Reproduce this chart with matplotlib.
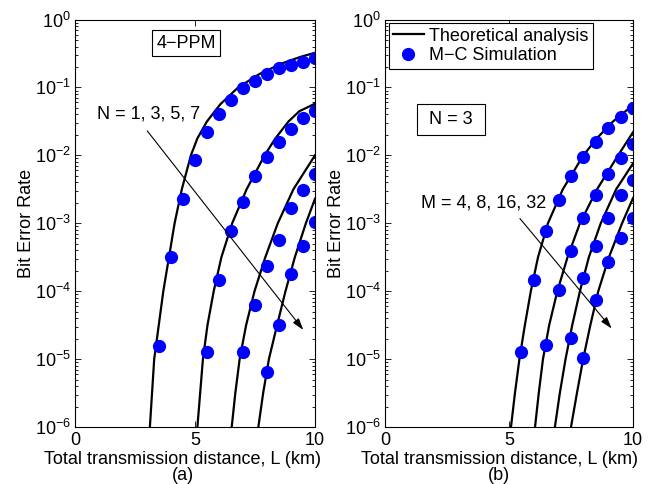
import numpy as np
import matplotlib
matplotlib.use("Agg")
from matplotlib import pyplot as plt
from matplotlib.ticker import FixedLocator, FixedFormatter, NullFormatter

plt.rcParams['font.family'] = ['Liberation Sans', 'DejaVu Sans']
plt.rcParams['mathtext.fontset'] = 'custom'
plt.rcParams['mathtext.rm'] = 'Liberation Sans'
plt.rcParams['mathtext.it'] = 'Liberation Sans:italic'
plt.rcParams['mathtext.default'] = 'regular'

FS = 13

# ---- panel (a): 4-PPM, N = 1, 3, 5, 7  (values are log10 BER) ----
a_theory_L = [
    [3.12, 3.30, 3.68, 4.15, 4.45, 4.83, 5.1, 5.5, 6.05, 6.8, 7.7, 8.6, 9.4, 10.0],
    [5.1, 5.33, 5.52, 5.78, 6.1, 6.55, 7.15, 7.9, 8.35, 8.9, 9.35, 10.0],
    [6.53, 6.68, 6.86, 7.13, 7.48, 7.93, 8.45, 9.1, 10.0],
    [7.64, 7.84, 8.08, 8.42, 8.77, 9.16, 9.62, 10.0],
]
a_theory_logber = [
    [-6.0, -5.0, -4.0, -3.0, -2.5, -2.0, -1.75, -1.5, -1.25, -1.0, -0.8, -0.65, -0.55, -0.49],
    [-6.0, -5.0, -4.5, -4.0, -3.5, -3.0, -2.5, -2.0, -1.75, -1.5, -1.35, -1.24],
    [-6.0, -5.5, -5.0, -4.5, -4.0, -3.5, -3.0, -2.5, -2.0],
    [-6.0, -5.5, -5.0, -4.5, -4.0, -3.5, -3.0, -2.64],
]
a_sim_L = [
    [3.5, 4, 4.5, 5, 5.5, 6, 6.5, 7, 7.5, 8, 8.5, 9, 9.5, 10],
    [5.5, 6, 6.5, 7, 7.5, 8, 8.5, 9, 9.5, 10],
    [7, 7.5, 8, 8.5, 9, 9.5, 10],
    [8, 8.5, 9, 9.5, 10],
]
a_sim_logber = [
    [-4.81, -3.49, -2.64, -2.07, -1.66, -1.39, -1.18, -1.01, -0.90, -0.80, -0.72, -0.67, -0.62, -0.57],
    [-4.90, -3.83, -3.12, -2.68, -2.31, -2.03, -1.80, -1.61, -1.45, -1.34],
    [-4.90, -4.20, -3.63, -3.24, -2.77, -2.51, -2.27],
    [-5.19, -4.50, -3.75, -3.33, -2.98],
]

# ---- panel (b): N = 3, M = 4, 8, 16, 32 ----
b_theory_L = [
    [5.08, 5.24, 5.42, 5.64, 5.88, 6.17, 6.57, 7.17, 8.0, 8.54, 9.2, 10.0],
    [6.05, 6.2, 6.37, 6.62, 6.95, 7.36, 7.86, 8.55, 9.4, 10.0],
    [6.85, 7.05, 7.28, 7.55, 7.86, 8.22, 8.7, 9.32, 10.0],
    [7.5, 7.74, 7.99, 8.28, 8.6, 9.03, 9.56, 10.0],
]
b_theory_logber = [
    [-6.0, -5.5, -5.0, -4.5, -4.0, -3.5, -3.0, -2.5, -2.0, -1.75, -1.5, -1.26],
    [-6.0, -5.5, -5.0, -4.5, -4.0, -3.5, -3.0, -2.5, -2.0, -1.66],
    [-6.0, -5.5, -5.0, -4.5, -4.0, -3.5, -3.0, -2.5, -2.12],
    [-6.0, -5.5, -5.0, -4.5, -4.0, -3.5, -3.0, -2.63],
]
b_sim_L = [
    [5.5, 6, 6.5, 7, 7.5, 8, 8.5, 9, 9.5, 10],
    [6.5, 7, 7.5, 8, 8.5, 9, 9.5, 10],
    [7.5, 8, 8.5, 9, 9.5, 10],
    [8, 8.5, 9, 9.5, 10],
]
b_sim_logber = [
    [-4.89, -3.83, -3.11, -2.66, -2.31, -2.02, -1.80, -1.60, -1.43, -1.31],
    [-4.79, -3.98, -3.41, -2.93, -2.58, -2.27, -2.04, -1.83],
    [-4.69, -3.80, -3.33, -2.93, -2.59, -2.36],
    [-4.99, -4.13, -3.57, -3.21, -2.92],
]

decades = [-6, -5, -4, -3, -2, -1, 0]
x_ticks = [0, 5, 10]


def style_axes(ax):
    ax.set_yscale('log')
    ax.set_xlim(0, 10)
    ax.set_ylim(1e-6, 1)
    ax.xaxis.set_major_locator(FixedLocator(x_ticks))
    ax.yaxis.set_major_locator(FixedLocator([10.0 ** d for d in decades]))
    ax.yaxis.set_major_formatter(FixedFormatter([r'$10^{%d}$' % d for d in decades]))
    minors = [m * 10.0 ** d for d in decades[:-1] for m in range(2, 10)]
    ax.yaxis.set_minor_locator(FixedLocator(minors))
    ax.yaxis.set_minor_formatter(NullFormatter())
    ax.tick_params(which='both', direction='in', top=True, right=True,
                   labelsize=FS, width=0.6)
    ax.tick_params(axis='y', pad=3)
    ax.tick_params(axis='x', pad=3.5)
    ax.tick_params(which='major', length=4)
    ax.tick_params(which='minor', length=2.2)
    for s in ax.spines.values():
        s.set_linewidth(0.8)
    ax.set_ylabel('Bit Error Rate', fontsize=FS, labelpad=0)


def draw_curves(ax, tL, tY, sL, sY):
    for L, y in zip(tL, tY):
        line, = ax.plot(L, 10.0 ** np.array(y), color='k', lw=1.6)
    for L, y in zip(sL, sY):
        pts, = ax.plot(L, 10.0 ** np.array(y), 'o', color='#0000ff', ms=8.5,
                       mec='#0000ff', ls='none')
    return line, pts


fig = plt.figure(figsize=(6.52, 4.84), dpi=100)
ax1 = fig.add_axes([75 / 652, 1 - 427 / 484, 240 / 652, 407.5 / 484])
ax2 = fig.add_axes([385 / 652, 1 - 427 / 484, 248 / 652, 407.5 / 484])

draw_curves(ax1, a_theory_L, a_theory_logber, a_sim_L, a_sim_logber)
line, pts = draw_curves(ax2, b_theory_L, b_theory_logber, b_sim_L, b_sim_logber)

for ax, tag, cx in [(ax1, '(a)', 0.45), (ax2, '(b)', 0.46)]:
    style_axes(ax)
    ax.set_xlabel('Total transmission distance, L (km)\n' + tag, fontsize=FS,
                  linespacing=0.95, ha='center', va='top')
    ax.xaxis.set_label_coords(cx, -0.058, transform=ax.transAxes)

# panel (a) annotations
ax1.text(4.63, 10 ** -0.35, '4\u2212PPM', fontsize=FS, ha='center', va='center',
         bbox=dict(boxstyle='square,pad=0.25', fc='white', ec='k', lw=0.8))
ax1.text(0.9, 10 ** -1.39, 'N = 1, 3, 5, 7', fontsize=FS, ha='left', va='center')
ax1.annotate('', xy=(9.51, 10 ** -4.57), xytext=(3.01, 10 ** -1.64),
             arrowprops=dict(arrowstyle='-|>,head_length=0.7,head_width=0.22',
                             color='k', lw=0.8, shrinkA=0, shrinkB=0))

# panel (b) annotations
ax2.text(2.67, 10 ** -1.47, ' N = 3 ', fontsize=FS, ha='center', va='center',
         bbox=dict(boxstyle='square,pad=0.4', fc='white', ec='k', lw=0.8))
ax2.text(1.44, 10 ** -2.70, 'M = 4, 8, 16, 32', fontsize=FS, ha='left', va='center')
ax2.annotate('', xy=(9.14, 10 ** -4.55), xytext=(5.44, 10 ** -2.93),
             arrowprops=dict(arrowstyle='-|>,head_length=0.7,head_width=0.22',
                             color='k', lw=0.8, shrinkA=0, shrinkB=0))

leg = ax2.legend([line, pts], ['Theoretical analysis', 'M\u2212C Simulation'],
                 loc='upper left', fontsize=FS, frameon=True, fancybox=False,
                 framealpha=1, edgecolor='k', borderpad=0.25, labelspacing=0.15,
                 handlelength=1.7, handletextpad=0.3, borderaxespad=0.2,
                 numpoints=1)
leg.get_frame().set_linewidth(0.8)

fig.savefig('out.png', dpi=100)
